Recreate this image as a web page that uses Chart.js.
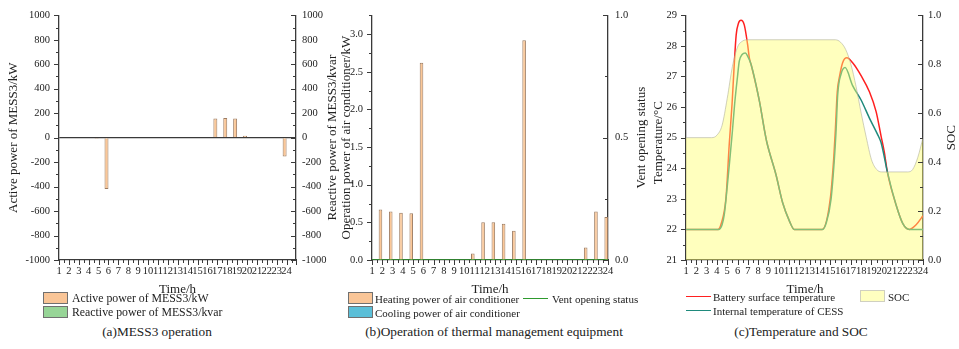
<!DOCTYPE html>
<html>
<head>
<meta charset="utf-8">
<script src="https://cdn.jsdelivr.net/npm/chart.js@4.4.1/dist/chart.umd.min.js"></script>
<style>
  html, body { margin: 0; padding: 0; background: #fff; }
  #wrap { position: relative; width: 959px; height: 349px; overflow: hidden; font-family: 'Liberation Serif', 'Times New Roman', serif; color: #222; }
  canvas { position: absolute; top: 0; }
  .t { position: absolute; white-space: nowrap; line-height: 1; }
  .ctr { transform: translate(-50%, -50%); }
  .leg { font-size: 11px; transform: translateY(-50%); }
  .box { position: absolute; width: 23px; height: 10px; border: 1.3px solid #707070; }
  .ln { position: absolute; width: 25px; height: 0; border-top: 1.6px solid; }
  .cap { font-size: 13.3px; transform: translate(-50%, -50%); }
</style>
</head>
<body>
<div id="wrap">
  <canvas id="cA" width="350" height="300" style="left:0px"></canvas>
  <canvas id="cB" width="370" height="300" style="left:300px"></canvas>
  <canvas id="cC" width="329" height="300" style="left:630px"></canvas>

  <div class="t ctr" style="left:177.5px;top:288px;font-size:13px">Time/h</div>
  <div class="t ctr" style="left:490px;top:288px;font-size:13px">Time/h</div>
  <div class="t ctr" style="left:805px;top:288px;font-size:13px">Time/h</div>

  <div class="box" style="left:43px;top:292px;background:#f9c597"></div>
  <div class="t leg" style="left:72px;top:299px;font-size:11.8px">Active power of MESS3/kW</div>
  <div class="box" style="left:43px;top:306px;background:#97d597"></div>
  <div class="t leg" style="left:72px;top:312.5px;font-size:11.8px">Reactive power of MESS3/kvar</div>
  <div class="t cap" style="left:157px;top:332px">(a)MESS3 operation</div>

  <div class="box" style="left:348px;top:292px;background:#f9c597"></div>
  <div class="t leg" style="left:375px;top:299px">Heating power of air conditioner</div>
  <div class="ln" style="left:523px;top:298px;border-color:#2e9a2e"></div>
  <div class="t leg" style="left:552px;top:299px">Vent opening status</div>
  <div class="box" style="left:348px;top:306px;background:#5bbfd8"></div>
  <div class="t leg" style="left:375px;top:312.5px">Cooling power of air conditioner</div>
  <div class="t cap" style="left:494px;top:332px">(b)Operation of thermal management equipment</div>

  <div class="ln" style="left:686px;top:296px;border-color:#ff2020"></div>
  <div class="t leg" style="left:713px;top:297px">Battery surface temperature</div>
  <div class="ln" style="left:686px;top:310px;border-color:#1f8a7c"></div>
  <div class="t leg" style="left:713px;top:311px">Internal temperature of CESS</div>
  <div class="box" style="left:860px;top:290px;background:#ffffc0;border-color:#d0d0c0"></div>
  <div class="t leg" style="left:888px;top:297px">SOC</div>
  <div class="t cap" style="left:801px;top:332px">(c)Temperature and SOC</div>
</div>
<script>
// ---- hourly data ----
const hours = [1,2,3,4,5,6,7,8,9,10,11,12,13,14,15,16,17,18,19,20,21,22,23,24];
const hourLabels = ['1','2','3','4','5','6','7','8','9','10','11','12','13','14','15','16','17','18','19','20','21','22','23','24'];

// (a) MESS3 output
const activePower   = [0,0,0,0,-8,-420,0,0,0,0,0,0,0,0,0,0,157,160,157,16,0,0,0,-155];
const reactivePower = [0,0,0,0,0,0,0,0,0,0,0,0,0,0,0,0,0,0,0,0,0,0,0,0];

// (b) thermal management equipment
const heatingPower = [0,0.67,0.645,0.627,0.62,2.62,0,0,0,0,0.085,0.5,0.5,0.48,0.39,2.92,0,0,0,0,0,0.165,0.645,0.57];
const coolingPower = [0,0,0,0,0,0,0,0,0,0,0,0,0,0,0,0,0,0,0,0,0,0,0,0];
const ventStatus   = [0,0,0,0,0,0,0,0,0,0,0,0,0,0,0,0,0,0,0,0,0,0,0,0];

// (c) temperatures and state of charge
const surfaceHours = [1,4.1,4.4,4.88,5.2,5.47,5.65,5.87,6.1,6.34,6.66,6.98,7.15,7.35,8.12,8.66,8.85,9.74,10.38,11.03,11.51,14.2,15.0,15.35,15.5,15.68,15.9,16.2,16.61,17.17,17.99,18.8,19.45,19.93,20.25,20.54,21.39,22.03,22.68,23.33,24];
const surfaceTemp  = [22,22,22.17,23.03,24.8,26.1,27.2,28.36,28.75,28.84,28.68,28.04,27.6,27.35,26.2,25.16,24.84,23.78,22.87,22.28,22.0,22.0,23.0,24.4,25.3,26.5,27.0,27.45,27.61,27.45,27.03,26.5,25.85,25.05,24.52,23.88,22.8,22.2,22.0,22.15,22.45];

const internalHours = [1,4.2,4.5,4.72,5.0,5.2,5.5,5.72,6.0,6.17,6.45,6.76,7.0,7.31,8.12,8.66,8.85,9.74,10.38,11.03,11.51,14.26,14.6,15.08,15.4,15.56,15.72,16.05,16.44,17.17,17.99,18.8,19.6,19.93,20.25,20.54,21.39,22.03,22.68,24];
const internalTemp  = [22,22,22.15,22.5,23.4,24.1,25.2,26.1,27.0,27.5,27.72,27.77,27.65,27.4,26.2,25.16,24.84,23.78,22.87,22.28,22.0,22.0,22.2,23.0,24.3,25.2,26.4,27.08,27.29,26.7,26.23,25.64,25.1,24.84,24.36,23.88,22.8,22.2,22.0,22.0];

const socHours = [1,3.5,4,4.5,5,5.5,6,6.5,7,15.5,16,16.5,17,17.5,18,18.5,19,19.5,20,22.5,23,23.5,24];
const socValue = [0.5,0.5,0.51,0.55,0.66,0.79,0.87,0.895,0.9,0.9,0.89,0.86,0.8,0.71,0.6,0.5,0.41,0.37,0.36,0.36,0.37,0.42,0.5];

// ---- shared styling ----
const SERIF = "'Liberation Serif', 'Times New Roman', serif";
Chart.defaults.font.family = SERIF;
Chart.defaults.font.size = 10.5;
Chart.defaults.color = '#222';
Chart.defaults.animation = false;

const AXIS = '#3a3a3a';
const pts = (xs, ys) => xs.map((x, i) => ({x: x, y: ys[i]}));

// Major/minor tick marks drawn from each scale's own pixel mapping.
const tickMarks = {
  id: 'tickMarks',
  afterDraw(chart, _args, opts) {
    const ctx = chart.ctx;
    ctx.save();
    ctx.strokeStyle = AXIS;
    ctx.lineWidth = 1;
    (opts.axes || []).forEach(a => {
      const s = chart.scales[a.id];
      const n = Math.round((s.max - s.min) / a.minor + 1e-6);
      const per = Math.round(a.major / a.minor);
      for (let i = 0; i <= n; i++) {
        const v = s.min + i * a.minor;
        const len = (i % per === 0) ? 5 : 3;
        const p = Math.round(s.getPixelForValue(v)) + 0.5;
        ctx.beginPath();
        if (s.position === 'left') {
          const x0 = s.right; ctx.moveTo(x0, p); ctx.lineTo(x0 - len, p);
        } else if (s.position === 'right') {
          const x0 = s.left; ctx.moveTo(x0, p); ctx.lineTo(x0 - len, p);
        } else {
          const y0 = s.top; ctx.moveTo(p, y0); ctx.lineTo(p, y0 + len);
        }
        ctx.stroke();
      }
    });
    ctx.restore();
  }
};

// Vertical axis titles, all reading bottom-to-top, centred on the plot height.
const sideTitles = {
  id: 'sideTitles',
  afterDraw(chart, _args, opts) {
    const ctx = chart.ctx;
    const yc = (chart.chartArea.top + chart.chartArea.bottom) / 2;
    ctx.save();
    ctx.fillStyle = '#222';
    ctx.font = '13px ' + SERIF;
    ctx.textAlign = 'center';
    ctx.textBaseline = 'middle';
    (opts.items || []).forEach(it => {
      ctx.save();
      ctx.translate(it.x, yc + (it.dy || 0));
      ctx.rotate(-Math.PI / 2);
      ctx.fillText(it.text, 0, 0);
      ctx.restore();
    });
    ctx.restore();
  }
};

function xScale(max) {
  return {
    type: 'linear', position: 'bottom', min: 1, max: max, offset: false,
    grid: { display: false, drawTicks: false, offset: false },
    border: { display: true, color: AXIS, width: 1.3 },
    ticks: { stepSize: 1, autoSkip: false, maxRotation: 0, minRotation: 0, padding: 5, includeBounds: false,
             callback: v => (Number.isInteger(v) && v >= 1 && v <= 24) ? hourLabels[v - 1] : '' },
    afterFit: s => { s.height = 40; }
  };
}
function yScale(pos, min, max, step, width, pad, fmt) {
  return {
    type: 'linear', position: pos, min: min, max: max,
    grid: { display: false, drawTicks: false },
    border: { display: true, color: AXIS, width: 1.3 },
    ticks: { stepSize: step, padding: pad, includeBounds: false, autoSkip: false, callback: fmt },
    afterFit: s => { s.width = width; }
  };
}

// (a) MESS3 operation
new Chart(document.getElementById('cA'), {
  type: 'bar',
  data: {
    datasets: [
      { label: 'Active power of MESS3/kW', data: pts(hours, activePower), backgroundColor: '#fbc797', borderColor: '#9c7c62', borderWidth: 1, yAxisID: 'y' },
      { label: 'Reactive power of MESS3/kvar', data: pts(hours, reactivePower), backgroundColor: '#97d597', borderColor: '#5f8f5f', borderWidth: 1, yAxisID: 'y' }
    ]
  },
  options: {
    responsive: false,
    layout: { padding: { top: 10, left: 0, right: 0, bottom: 0 } },
    datasets: { bar: { categoryPercentage: 0.8, barPercentage: 1.0 } },
    plugins: { legend: { display: false }, tooltip: { enabled: false },
      tickMarks: { axes: [ {id: 'x', major: 1, minor: 0.5}, {id: 'y', major: 200, minor: 100}, {id: 'y2', major: 200, minor: 100} ] },
      sideTitles: { items: [ {text: 'Active power of MESS3/kW', x: 14}, {text: 'Reactive power of MESS3/kvar', x: 333} ] } },
    scales: {
      x: xScale(24.95),
      y: Object.assign(yScale('left', -1000, 1000, 200, 59, 9, v => String(v)), {
        grid: { display: true, drawTicks: false, drawOnChartArea: true, lineWidth: 1.2,
                color: c => (c.tick && c.tick.value === 0) ? AXIS : 'rgba(0,0,0,0)' } }),
      y2: yScale('right', -1000, 1000, 200, 54, 6, v => String(v))
    }
  },
  plugins: [tickMarks, sideTitles]
});

// (b) thermal management equipment
new Chart(document.getElementById('cB'), {
  type: 'bar',
  data: {
    datasets: [
      { label: 'Heating power of air conditioner', data: pts(hours, heatingPower), backgroundColor: '#fbc797', borderColor: '#9c7c62', borderWidth: 1, yAxisID: 'y', order: 2 },
      { label: 'Cooling power of air conditioner', data: pts(hours, coolingPower), backgroundColor: '#5bbfd8', borderColor: '#3f8a9c', borderWidth: 1, yAxisID: 'y', order: 3 },
      { type: 'line', label: 'Vent opening status', data: pts(hours, ventStatus), borderColor: '#2e9a2e', borderWidth: 1.5, pointRadius: 0, yAxisID: 'y2', order: 1 }
    ]
  },
  options: {
    responsive: false,
    layout: { padding: { top: 10, left: 0, right: 0, bottom: 0 } },
    datasets: { bar: { categoryPercentage: 0.7, barPercentage: 1.0 } },
    plugins: { legend: { display: false }, tooltip: { enabled: false },
      tickMarks: { axes: [ {id: 'x', major: 1, minor: 0.5}, {id: 'y', major: 0.5, minor: 0.25}, {id: 'y2', major: 0.5, minor: 0.25} ] },
      sideTitles: { items: [ {text: 'Operation power of air conditioner/kW', x: 47}, {text: 'Vent opening status', x: 342} ] } },
    scales: {
      x: xScale(24),
      y: yScale('left', 0, 3.25, 0.5, 72, 9, v => v.toFixed(1)),
      y2: yScale('right', 0, 1, 0.5, 62, 7, v => v.toFixed(1))
    }
  },
  plugins: [tickMarks, sideTitles]
});

// (c) temperature and SOC
new Chart(document.getElementById('cC'), {
  type: 'line',
  data: {
    datasets: [
      { label: 'SOC', data: pts(socHours, socValue), yAxisID: 'y2', fill: 'origin',
        backgroundColor: 'rgba(255,255,110,0.45)', borderColor: 'rgba(170,170,150,0.7)', borderWidth: 0.8,
        pointRadius: 0, cubicInterpolationMode: 'monotone', order: 0 },
      { label: 'Internal temperature of CESS', data: pts(internalHours, internalTemp), yAxisID: 'y',
        borderColor: '#1f8a7c', borderWidth: 1.5, pointRadius: 0, cubicInterpolationMode: 'monotone', order: 1 },
      { label: 'Battery surface temperature', data: pts(surfaceHours, surfaceTemp), yAxisID: 'y',
        borderColor: '#ff2020', borderWidth: 1.5, pointRadius: 0, cubicInterpolationMode: 'monotone', order: 2 }
    ]
  },
  options: {
    responsive: false,
    layout: { padding: { top: 10, left: 0, right: 0, bottom: 0 } },
    plugins: { legend: { display: false }, tooltip: { enabled: false },
      tickMarks: { axes: [ {id: 'x', major: 1, minor: 0.5}, {id: 'y', major: 1, minor: 0.5}, {id: 'y2', major: 0.2, minor: 0.1} ] },
      sideTitles: { items: [ {text: 'Temperature/°C', x: 29, dy: 5}, {text: 'SOC', x: 322} ] } },
    scales: {
      x: xScale(24),
      y: yScale('left', 21, 29, 1, 56, 9, v => String(v)),
      y2: yScale('right', 0, 1, 0.2, 36, 5, v => v.toFixed(1))
    }
  },
  plugins: [tickMarks, sideTitles]
});
</script>
</body>
</html>
